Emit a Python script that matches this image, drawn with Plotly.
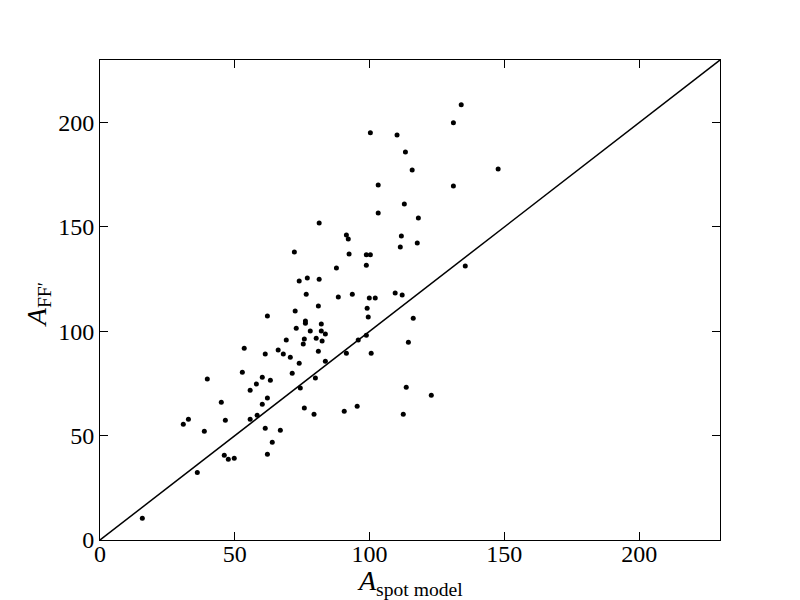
import plotly.graph_objects as go

spot_model = [
    81.3, 72.1,
    134.0, 131.1, 100.3, 110.2, 113.3, 115.8, 147.7, 103.2, 131.1, 112.9,
    103.2, 118.1, 91.4, 92.1, 111.8, 117.7, 111.4, 92.4, 98.8, 100.3,
    73.9, 76.9, 81.3, 76.5, 81.0, 72.4, 62.1, 76.2, 76.2, 82.1, 72.8, 78.0,
    82.1, 83.6, 75.8, 80.2, 82.4, 69.1, 75.4, 53.5, 66.1, 61.3, 68.0, 70.6,
    81.0, 83.6, 73.9, 52.8, 71.3, 39.8, 60.2, 63.2, 79.9, 58.0, 55.7, 74.3,
    45.0, 62.1, 60.2, 75.8, 79.4, 58.3,
    87.7, 98.8, 135.5, 88.4, 93.6, 99.9, 102.1, 109.5, 112.1, 99.1, 99.5,
    116.2, 98.8, 95.8, 114.4, 91.4, 100.6, 113.6, 122.9, 90.6, 95.4, 112.5,
    30.9, 32.8, 38.7, 46.5, 55.7, 61.3, 66.9, 63.9, 62.1, 46.1, 47.6, 49.8,
    36.1, 15.7,
]
a_ff = [
    151.9, 138.0,
    208.5, 199.9, 195.1, 194.1, 185.9, 177.3, 177.8, 170.1, 169.6, 161.0,
    156.7, 154.3, 146.1, 144.2, 145.7, 142.3, 140.4, 137.0, 136.7, 136.7,
    124.1, 125.5, 125.0, 117.8, 112.1, 109.7, 107.3, 104.9, 103.9, 103.5,
    101.5, 100.1, 100.1, 98.7, 96.3, 96.7, 95.3, 95.8, 93.9, 91.9, 91.0,
    89.1, 89.1, 87.6, 90.5, 85.7, 84.7, 80.4, 79.9, 77.1, 78.0, 76.6, 77.6,
    74.7, 71.8, 72.8, 66.0, 68.0, 65.1, 63.2, 60.3, 59.8,
    130.3, 131.7, 131.3, 116.4, 117.8, 115.9, 115.9, 118.3, 117.4, 111.1,
    106.8, 106.3, 98.1, 95.8, 94.8, 89.5, 89.5, 73.2, 69.4, 61.7, 64.1, 60.3,
    55.5, 57.9, 52.1, 57.4, 57.9, 53.6, 52.6, 46.8, 41.1, 40.6, 38.7, 39.2,
    32.4, 10.4,
]
one_to_one = [0, 230]
tick_vals = [0, 50, 100, 150, 200]

fig = go.Figure()

fig.add_trace(
    go.Scatter(
        x=one_to_one,
        y=one_to_one,
        mode="lines",
        line=dict(color="black", width=1.5),
        hoverinfo="skip",
    )
)

fig.add_trace(
    go.Scatter(
        x=spot_model,
        y=a_ff,
        mode="markers",
        marker=dict(color="black", size=5),
    )
)

axis_style = dict(
    range=[0, 230],
    tickvals=tick_vals,
    ticks="inside",
    ticklen=8,
    tickwidth=1,
    tickcolor="black",
    showline=True,
    linecolor="black",
    linewidth=1,
    mirror="ticks",
    showgrid=False,
    zeroline=False,
    automargin=False,
    tickfont=dict(size=24, color="black"),
)

fig.update_xaxes(**axis_style, ticklabelstandoff=-8)
fig.update_yaxes(**axis_style)

# axis titles as annotations so the plot area stays put
fig.add_annotation(
    text="<i>A</i><sub>spot model</sub>",
    xref="paper", yref="paper",
    x=0.5, y=-0.048,
    xanchor="center", yanchor="top",
    showarrow=False,
    font=dict(size=28, color="black"),
)
fig.add_annotation(
    text="<i>A</i><sub>FF′</sub>",
    xref="paper", yref="paper",
    x=-0.068, y=0.49,
    xanchor="right", yanchor="middle",
    textangle=-90,
    showarrow=False,
    font=dict(size=28, color="black"),
)

# the page adds an 8px body margin, so the figure is a bit smaller
fig.update_layout(
    width=792,
    height=592,
    margin=dict(l=92, r=80, t=52, b=60),
    plot_bgcolor="white",
    paper_bgcolor="white",
    font_family="Liberation Serif",
    showlegend=False,
)

fig.write_html("out.html")
